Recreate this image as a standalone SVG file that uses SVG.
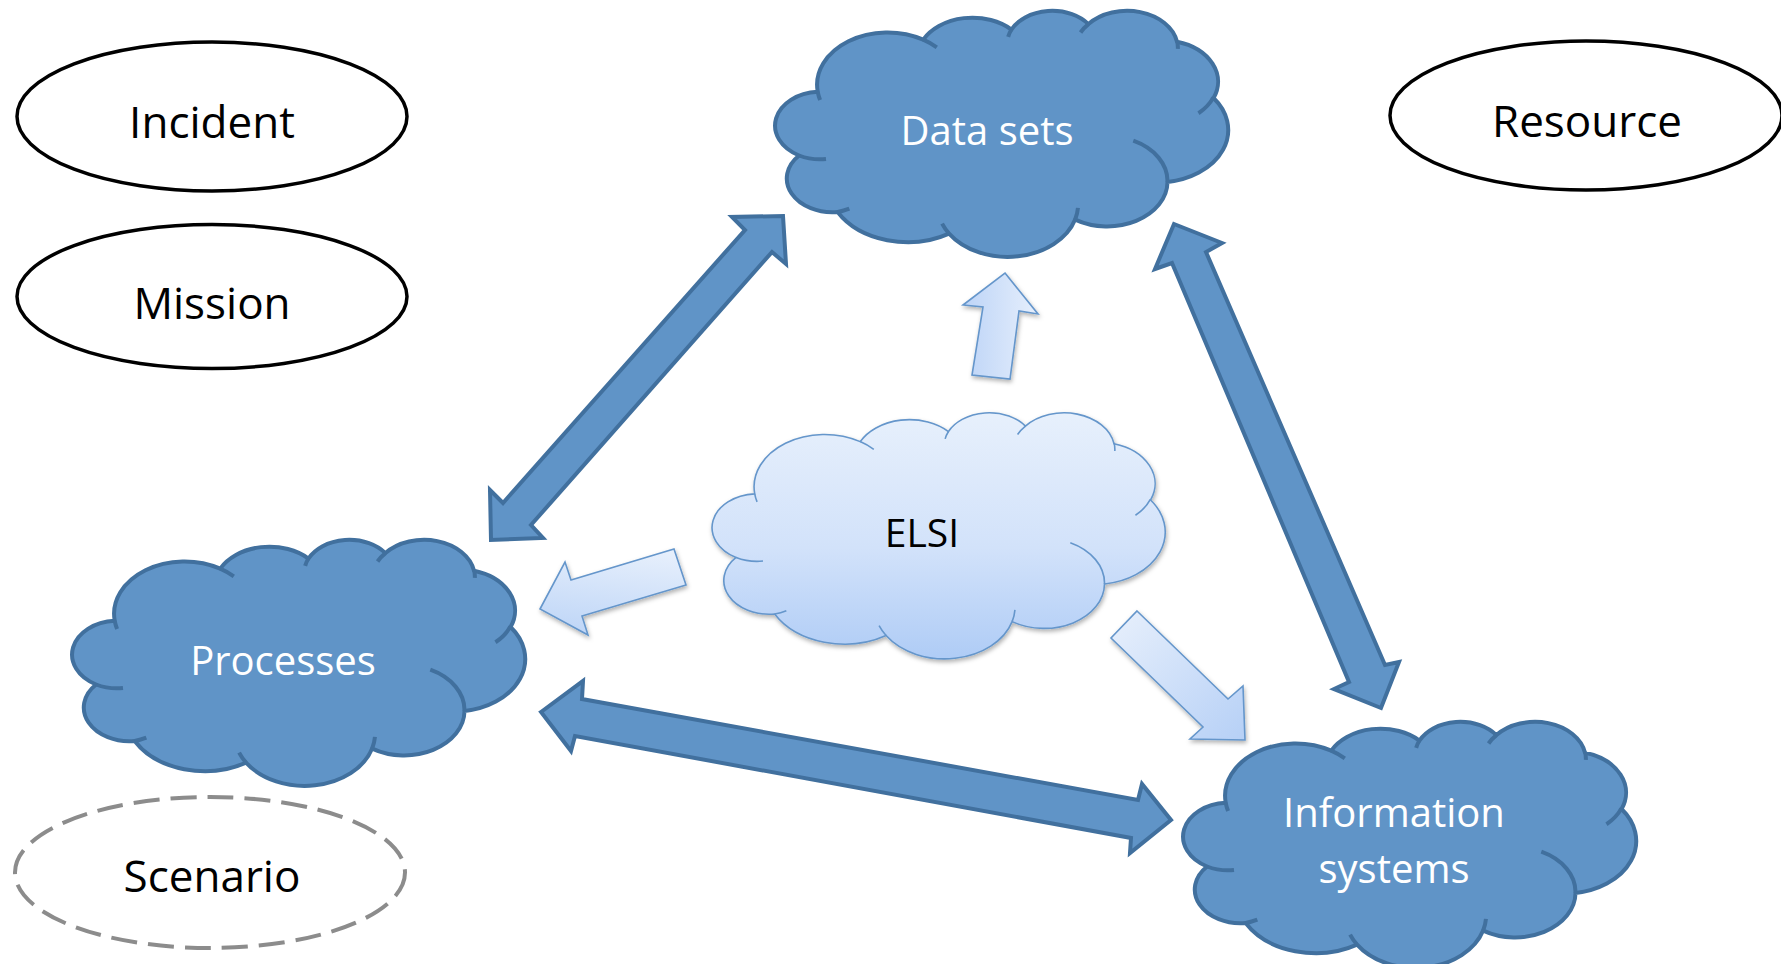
<svg xmlns="http://www.w3.org/2000/svg" width="1781" height="964" viewBox="0 0 1781 964">
<defs>
<style>
.ell{fill:#fff;stroke:#000;stroke-width:3.5}
.ell-dash{fill:#fff;stroke:#8c8c8c;stroke-width:4;stroke-dasharray:26 11}
.lbl{font-family:"Open Sans","Liberation Sans",sans-serif;font-size:44px;fill:#000;text-anchor:middle}
.clbl{font-family:"Open Sans","Liberation Sans",sans-serif;font-size:40px;fill:#fff;text-anchor:middle}
.elbl{font-family:"Open Sans","Liberation Sans",sans-serif;font-size:39px;fill:#000;text-anchor:middle}
.dark{fill:#6094c7;stroke:#41709e;stroke-width:4;stroke-linejoin:round}
.darkline{fill:none;stroke:#41709e;stroke-width:4}
.light{fill:url(#gElsi);stroke:#6596cb;stroke-width:1.6}
.lightline{fill:none;stroke:#6596cb;stroke-width:1.6}
.dbl{fill:#6094c7;stroke:#41709e;stroke-width:4;stroke-linejoin:miter}
.la{stroke:#6596cb;stroke-width:1.6;stroke-linejoin:miter;filter:url(#sh)}
</style>
<linearGradient id="gElsi" x1="0" y1="0" x2="0" y2="1">
<stop offset="0" stop-color="#e7f0fc"/><stop offset="0.55" stop-color="#d2e2fa"/><stop offset="1" stop-color="#afccf6"/>
</linearGradient>
<linearGradient id="gUp" x1="0" y1="0" x2="1" y2="0">
<stop offset="0" stop-color="#bdd4f7"/><stop offset="1" stop-color="#e6effc"/>
</linearGradient>
<linearGradient id="gLeft" x1="0.6" y1="0" x2="0.4" y2="1">
<stop offset="0" stop-color="#e6effc"/><stop offset="1" stop-color="#bfd6f7"/>
</linearGradient>
<linearGradient id="gDiag" x1="0" y1="0" x2="1" y2="1">
<stop offset="0" stop-color="#e8f0fc"/><stop offset="1" stop-color="#b6d0f6"/>
</linearGradient>
<filter id="sh" x="-20%" y="-20%" width="140%" height="140%">
<feDropShadow dx="1" dy="2.5" stdDeviation="2" flood-color="#000" flood-opacity="0.3"/>
</filter>
<path id="cloud" d="M40.72,81.83 A70.5,52.33 0 0 1 146.21,29.62 A55.68,41.38 0 0 1 234.45,19.53 A45.57,33.85 0 0 1 311.45,14.1 A50.71,37.55 0 0 1 400.03,31.73 A55.68,41.42 0 0 1 436.57,88.01 A70.73,52.5 0 0 1 390.5,171.98 A60.39,44.8 0 0 1 298.13,209.62 A70.49,52.47 0 0 1 172.07,223.58 A80.6,60.04 0 0 1 60.62,201.99 A45.52,33.7 0 0 1 22.08,145.49 A45.36,33.85 0 0 1 40.72,81.83 Z"/>
<path id="cloudLines" d="M48.99,149.06 A45.36,33.85 0 0 1 22.08,145.49 M72.33,198.73 A45.52,33.7 0 0 1 60.62,201.99 M172.07,223.58 A70.49,52.47 0 0 1 165.09,213.67 M300.95,197.89 A70.49,52.47 0 0 1 298.13,209.62 M356.3,130.71 A60.39,44.8 0 0 1 390.5,171.98 M436.36,87.43 A55.68,41.42 0 0 1 421.45,103.25 M400.1,30.9 A50.71,37.55 0 0 1 400.82,38.93 M303.57,22.5 A50.71,37.55 0 0 1 311.45,14.1 M231.15,26.88 A45.57,33.85 0 0 1 234.45,19.53 M146.16,29.57 A70.5,52.33 0 0 1 159.78,37.3 M43.08,89.91 A70.5,52.33 0 0 1 40.72,81.83"/>
</defs>
<rect width="1781" height="964" fill="#fff"/>

<g id="connectors">
<polygon class="dbl" points="783,216 786,264 772,252 531,525 543,538 491,540 490,490 503,503 745,230 732,217"/>
<polygon class="dbl" points="1174,224 1222,243 1206,252 1385,665 1399,662 1381,708 1334,689 1349,682 1172,263 1155,269"/>
<polygon class="dbl" points="541,712 583,681 582,699 1138,800 1142,784 1171,820 1130,853 1131,838 575,736 571,751"/>
<polygon class="la" fill="url(#gUp)" points="1005,273 1038,314 1019,311 1010,379 972,375 983,307 963,305"/>
<polygon class="la" fill="url(#gLeft)" points="540,609 565,562 571,580 674,549 686,585 582,616 588,635"/>
<polygon class="la" fill="url(#gDiag)" points="1137,611 1228,699 1243,686 1245,740 1190,739 1203,727 1111,638"/>
</g>

<g id="node-incident">
<ellipse class="ell" cx="212" cy="116.5" rx="195" ry="74.5"/>
<text class="lbl" x="212" y="138">Incident</text>
</g>
<g id="node-mission">
<ellipse class="ell" cx="212" cy="296.5" rx="195" ry="72"/>
<text class="lbl" x="212" y="319">Mission</text>
</g>
<g id="node-scenario">
<ellipse class="ell-dash" cx="210" cy="872.5" rx="195" ry="75.5"/>
<text class="lbl" x="212" y="892">Scenario</text>
</g>
<g id="node-resource">
<ellipse class="ell" cx="1586" cy="115.5" rx="196" ry="74.5"/>
<text class="lbl" x="1587" y="137">Resource</text>
</g>

<g id="node-datasets">
<use href="#cloud" class="dark" transform="translate(777,10)"/>
<use href="#cloudLines" class="darkline" transform="translate(777,10)"/>
<text class="clbl" x="987" y="145">Data sets</text>
</g>
<g id="node-elsi">
<use href="#cloud" class="light" filter="url(#sh)" transform="translate(714,412)"/>
<use href="#cloudLines" class="lightline" transform="translate(714,412)"/>
<text class="elbl" x="922" y="547">ELSI</text>
</g>
<g id="node-processes">
<use href="#cloud" class="dark" transform="translate(74,539)"/>
<use href="#cloudLines" class="darkline" transform="translate(74,539)"/>
<text class="clbl" x="283" y="675">Processes</text>
</g>
<g id="node-infosystems">
<use href="#cloud" class="dark" transform="translate(1185,721)"/>
<use href="#cloudLines" class="darkline" transform="translate(1185,721)"/>
<text class="clbl" x="1394" y="827">Information</text>
<text class="clbl" x="1394" y="883">systems</text>
</g>
</svg>
